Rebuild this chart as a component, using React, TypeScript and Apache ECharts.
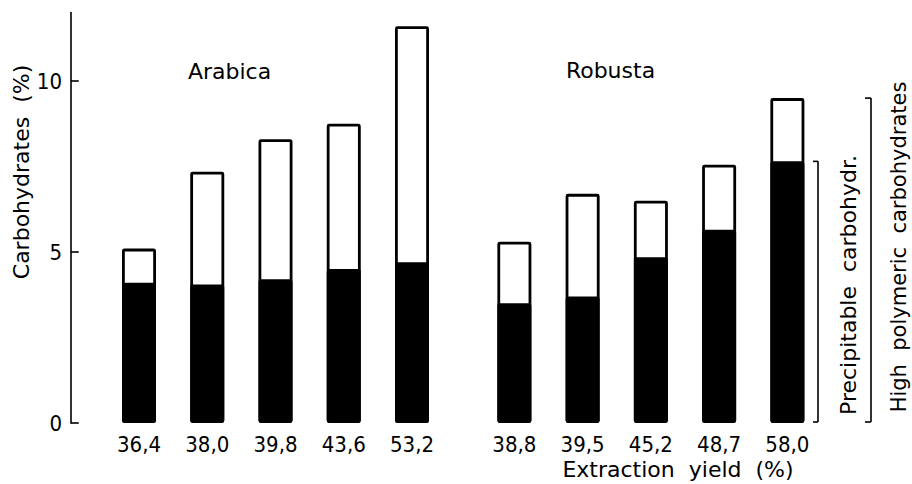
import React, { useEffect, useRef } from "react";
import * as echarts from "echarts";

// ---- data ----
const arabicaYield = ["36,4", "38,0", "39,8", "43,6", "53,2"];
const robustaYield = ["38,8", "39,5", "45,2", "48,7", "58,0"];
const arabicaPos = [1, 2, 3, 4, 5];
const robustaPos = [6.5, 7.5, 8.5, 9.5, 10.5];
// high polymeric carbohydrates (total bar height, %)
const arabicaTotal = [5.1, 7.35, 8.3, 8.75, 11.6];
const robustaTotal = [5.3, 6.7, 6.5, 7.55, 9.5];
// precipitable carbohydrates (black part, %)
const arabicaPrecip = [4.1, 4.05, 4.2, 4.5, 4.7];
const robustaPrecip = [3.5, 3.7, 4.85, 5.65, 7.65];
const yTicks = [0, 5, 10];

const TEXT_FONT = "'DejaVu Sans', sans-serif";
const NUM_FONT = "'DejaVu Sans Condensed', 'DejaVu Sans', sans-serif";

export default function App() {
  const ref = useRef<HTMLDivElement>(null);

  useEffect(() => {
    if (!ref.current) return;
    const chart = echarts.init(ref.current, null, { renderer: "svg" });

    const positions = [...arabicaPos, ...robustaPos];
    const labels = [...arabicaYield, ...robustaYield];
    const totals = [...arabicaTotal, ...robustaTotal];
    const precips = [...arabicaPrecip, ...robustaPrecip];

    const option: any = {
      animation: false,
      backgroundColor: "#ffffff",
      grid: { left: 70.75, right: 22.25, top: 12.6, bottom: 61, containLabel: false },
      xAxis: {
        type: "value",
        min: 0,
        max: 12,
        axisLine: { show: false },
        axisTick: { show: false },
        splitLine: { show: false },
        axisLabel: {
          customValues: positions,
          margin: 10,
          color: "#000",
          fontFamily: NUM_FONT,
          fontSize: 22,
          formatter: (v: number) => {
            const i = positions.findIndex((p) => Math.abs(p - v) < 1e-6);
            return i >= 0 ? labels[i] : "";
          },
        },
      },
      yAxis: {
        type: "value",
        min: 0,
        max: 12,
        offset: 2.75,
        axisLine: { show: true, lineStyle: { color: "#000", width: 1.6 } },
        axisTick: {
          show: true,
          inside: true,
          length: 8,
          customValues: yTicks,
          lineStyle: { color: "#000", width: 1.6 },
        },
        splitLine: { show: false },
        axisLabel: {
          customValues: yTicks,
          margin: 6,
          color: "#000",
          fontFamily: NUM_FONT,
          fontSize: 22,
        },
      },
      series: [
        {
          name: "High polymeric carbohydrates",
          type: "bar",
          barWidth: 34,
          barGap: "-100%",
          itemStyle: { color: "#ffffff", borderColor: "#000", borderWidth: 2.8, borderRadius: 1 },
          data: positions.map((p, i) => [p, totals[i]]),
          z: 2,
        },
        {
          name: "Precipitable carbohydr.",
          type: "bar",
          barWidth: 34,
          barGap: "-100%",
          itemStyle: { color: "#000", borderColor: "#000", borderWidth: 2.8, borderRadius: 1 },
          data: positions.map((p, i) => [p, precips[i]]),
          z: 3,
        },
      ],
    };
    chart.setOption(option);

    const yP = (v: number) => chart.convertToPixel({ yAxisIndex: 0 }, v) as number;
    const last = robustaTotal.length - 1;
    const base = yP(0) - 1;
    const pTop = yP(robustaPrecip[last]);
    const tTop = yP(robustaTotal[last]);
    const ls = { stroke: "#000", lineWidth: 1.6 };
    const bracket = (x: number, top: number, tick: number) => [
      { type: "line", shape: { x1: x, y1: top, x2: x, y2: base }, style: ls },
      { type: "line", shape: { x1: x - tick, y1: top, x2: x, y2: top }, style: ls },
      { type: "line", shape: { x1: x - tick, y1: base, x2: x, y2: base }, style: ls },
    ];
    const txt = (text: string, x: number, y: number, rot = 0, size = 22) => ({
      type: "text",
      x,
      y,
      rotation: rot,
      style: {
        text,
        fill: "#000",
        font: `${size}px ${TEXT_FONT}`,
        align: "center",
        verticalAlign: "middle",
      },
    });

    chart.setOption({
      graphic: [
        ...bracket(818, pTop, 5),
        ...bracket(871, tTop, 6),
        txt("Carbohydrates  (%)", 21, 172, Math.PI / 2),
        txt("Arabica", 229.5, 71),
        txt("Robusta", 610.5, 70),
        txt("Extraction  yield  (%)", 678, 469),
        txt("Precipitable  carbohydr.", 848, 285, Math.PI / 2),
        txt("High  polymeric  carbohydrates", 899, 247, Math.PI / 2, 21),
      ],
    });

    return () => chart.dispose();
  }, []);

  return (
    <div
      ref={ref}
      style={{ position: "absolute", left: 0, top: 0, width: 912, height: 484, background: "#fff" }}
    />
  );
}
